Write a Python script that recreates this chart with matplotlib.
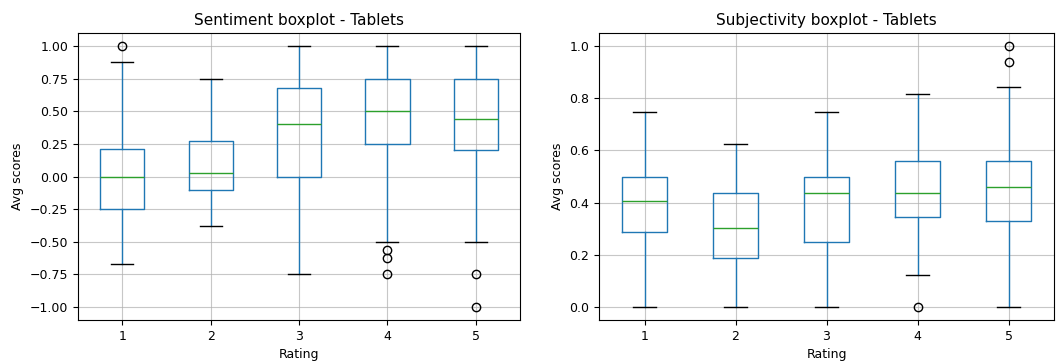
import matplotlib
matplotlib.use('Agg')
import matplotlib.pyplot as plt

ratings = ['1', '2', '3', '4', '5']

# sentiment summary per rating: whisker low, q1, median, q3, whisker high
sent_whislo = [-0.67, -0.38, -0.75, -0.50, -0.50]
sent_q1 = [-0.25, -0.10, 0.00, 0.25, 0.20]
sent_med = [0.00, 0.03, 0.40, 0.50, 0.44]
sent_q3 = [0.21, 0.275, 0.675, 0.75, 0.75]
sent_whishi = [0.875, 0.75, 1.00, 1.00, 1.00]
sent_fliers = [[1.0], [], [], [-0.5625, -0.625, -0.75], [-0.75, -1.0]]

subj_whislo = [0.0, 0.0, 0.0, 0.123, 0.0]
subj_q1 = [0.288, 0.186, 0.248, 0.343, 0.329]
subj_med = [0.405, 0.303, 0.438, 0.438, 0.46]
subj_q3 = [0.50, 0.438, 0.50, 0.56, 0.56]
subj_whishi = [0.747, 0.625, 0.747, 0.816, 0.844]
subj_fliers = [[], [], [], [0.0], [0.937, 1.0]]


def make_stats(lo, q1, med, q3, hi, fl):
    out = []
    for i in range(len(ratings)):
        out.append(dict(whislo=lo[i], q1=q1[i], med=med[i], q3=q3[i],
                        whishi=hi[i], fliers=fl[i], label=ratings[i]))
    return out


def draw(ax, stats, title):
    ax.bxp(stats, positions=range(1, 6), widths=0.5,
           boxprops=dict(color='#1f77b4'),
           whiskerprops=dict(color='#1f77b4'),
           capprops=dict(color='k'),
           medianprops=dict(color='#2ca02c'),
           flierprops=dict(marker='o', markerfacecolor='none',
                           markeredgecolor='k'))
    ax.grid(True, color='#b0b0b0', linewidth=0.8, alpha=0.7)
    ax.set_axisbelow(True)
    ax.set_title(title, fontsize=11)
    ax.set_xlabel('Rating', fontsize=9)
    ax.set_ylabel('Avg scores', fontsize=9)
    ax.tick_params(labelsize=9)
    ax.set_xlim(0.5, 5.5)


fig = plt.figure(figsize=(10.56, 3.63), dpi=100)
ax1 = fig.add_axes([78 / 1056, 1 - 320 / 363, 442 / 1056, 287 / 363])
ax2 = fig.add_axes([599 / 1056, 1 - 320 / 363, 455 / 1056, 287 / 363])

draw(ax1, make_stats(sent_whislo, sent_q1, sent_med, sent_q3, sent_whishi, sent_fliers),
     'Sentiment boxplot - Tablets')
ax1.set_ylim(-1.1, 1.1)
ax1.set_yticks([-1.0, -0.75, -0.5, -0.25, 0.0, 0.25, 0.5, 0.75, 1.0])

draw(ax2, make_stats(subj_whislo, subj_q1, subj_med, subj_q3, subj_whishi, subj_fliers),
     'Subjectivity boxplot - Tablets')
ax2.set_ylim(-0.05, 1.05)

fig.savefig('out.png', dpi=100)
